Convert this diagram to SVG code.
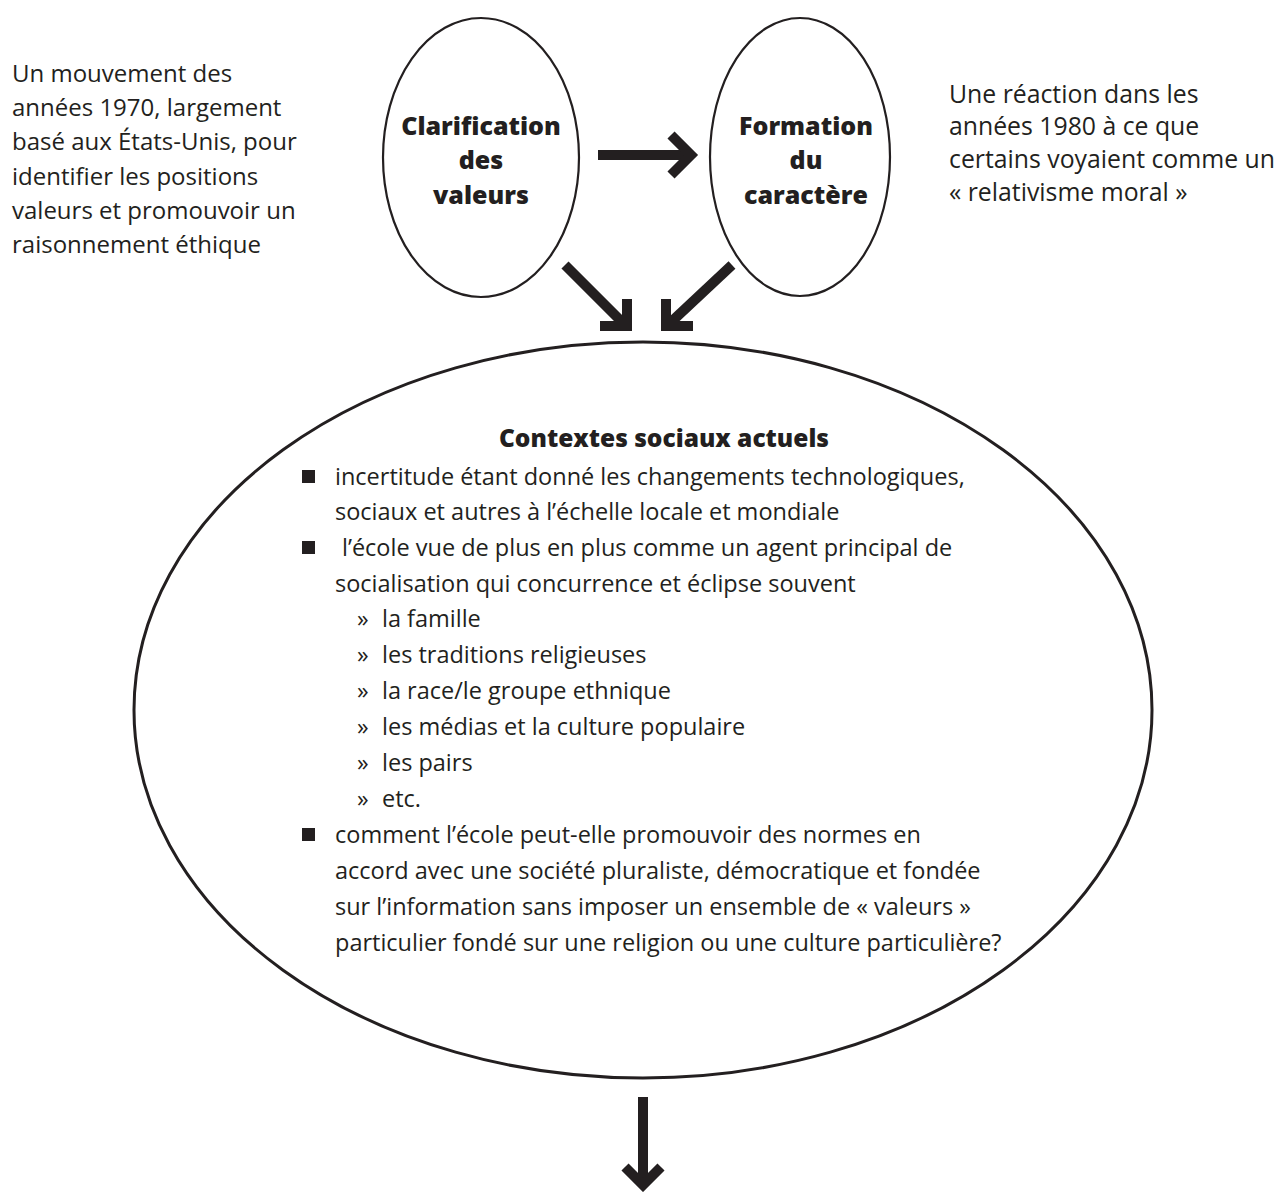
<svg xmlns="http://www.w3.org/2000/svg" width="1288" height="1192" viewBox="0 0 1288 1192">
  <style>
    .bg { fill: #ffffff; }
    .oval { fill: none; stroke: #231f20; stroke-width: 2.2; }
    .big-oval { fill: none; stroke: #231f20; stroke-width: 3; }
    .shaft { fill: none; stroke: #231f20; stroke-width: 10; stroke-linecap: butt; }
    .head { fill: none; stroke: #231f20; stroke-width: 10; stroke-linecap: butt; stroke-linejoin: miter; stroke-miterlimit: 10; }
    .note { font-family: "Open Sans", "Noto Sans", "Liberation Sans", sans-serif; font-size: 24px; fill: #231f20; }
    .note-r { font-size: 24.8px; }
    .label { font-family: "Open Sans", "Noto Sans", "Liberation Sans", sans-serif; font-size: 25px; font-weight: 800; fill: #231f20; text-anchor: middle; }
    .title { font-family: "Open Sans", "Noto Sans", "Liberation Sans", sans-serif; font-size: 24.5px; font-weight: 800; fill: #231f20; text-anchor: middle; }
    .body { font-family: "Open Sans", "Noto Sans", "Liberation Sans", sans-serif; font-size: 23.5px; fill: #231f20; }
    .sq { fill: #231f20; }
  </style>
  <rect class="bg" x="0" y="0" width="1288" height="1192"/>

  <!-- side notes -->
  <g id="note-left">
    <text class="note" x="12" y="82">Un mouvement des</text>
    <text class="note" x="12" y="116">années 1970, largement</text>
    <text class="note" x="12" y="150">basé aux États-Unis, pour</text>
    <text class="note" x="12" y="185">identifier les positions</text>
    <text class="note" x="12" y="219">valeurs et promouvoir un</text>
    <text class="note" x="12" y="253">raisonnement éthique</text>
  </g>
  <g id="note-right">
    <text class="note note-r" x="949" y="103">Une réaction dans les</text>
    <text class="note note-r" x="949" y="135">années 1980 à ce que</text>
    <text class="note note-r" x="949" y="168">certains voyaient comme un</text>
    <text class="note note-r" x="949" y="201">« relativisme moral »</text>
  </g>

  <!-- upper nodes -->
  <g id="node-clarification">
    <ellipse class="oval" cx="481" cy="157.5" rx="98" ry="139.5"/>
    <text class="label" x="481" y="135">Clarification</text>
    <text class="label" x="481" y="169">des</text>
    <text class="label" x="481" y="204">valeurs</text>
  </g>
  <g id="node-formation">
    <ellipse class="oval" cx="800" cy="157" rx="90" ry="139"/>
    <text class="label" x="806" y="135">Formation</text>
    <text class="label" x="806" y="169">du</text>
    <text class="label" x="806" y="204">caractère</text>
  </g>

  <!-- central node -->
  <g id="node-contextes">
    <ellipse class="big-oval" cx="643" cy="710" rx="509" ry="368"/>
    <text class="title" x="664" y="447">Contextes sociaux actuels</text>

    <rect class="sq" x="302" y="470" width="13" height="13"/>
    <text class="body" x="335" y="485">incertitude étant donné les changements technologiques,</text>
    <text class="body" x="335" y="520">sociaux et autres à l’échelle locale et mondiale</text>

    <rect class="sq" x="302" y="541" width="13" height="13"/>
    <text class="body" x="342" y="556">l’école vue de plus en plus comme un agent principal de</text>
    <text class="body" x="335" y="592">socialisation qui concurrence et éclipse souvent</text>

    <text class="body" x="357" y="627">»</text>
    <text class="body" x="382" y="627">la famille</text>
    <text class="body" x="357" y="663">»</text>
    <text class="body" x="382" y="663">les traditions religieuses</text>
    <text class="body" x="357" y="699">»</text>
    <text class="body" x="382" y="699">la race/le groupe ethnique</text>
    <text class="body" x="357" y="735">»</text>
    <text class="body" x="382" y="735">les médias et la culture populaire</text>
    <text class="body" x="357" y="771">»</text>
    <text class="body" x="382" y="771">les pairs</text>
    <text class="body" x="357" y="807">»</text>
    <text class="body" x="382" y="807">etc.</text>

    <rect class="sq" x="302" y="828" width="13" height="13"/>
    <text class="body" x="335" y="843">comment l’école peut-elle promouvoir des normes en</text>
    <text class="body" x="335" y="879">accord avec une société pluraliste, démocratique et fondée</text>
    <text class="body" x="335" y="915">sur l’information sans imposer un ensemble de « valeurs »</text>
    <text class="body" x="335" y="951">particulier fondé sur une religion ou une culture particulière?</text>
  </g>

  <!-- connectors -->
  <g id="connectors">
    <line class="shaft" x1="598" y1="155" x2="688" y2="155"/>
    <polyline class="head" points="671,135 691,155 671,175"/>

    <line class="shaft" x1="565" y1="265" x2="624" y2="324"/>
    <polyline class="head" points="627,299 627,326 600,326"/>

    <line class="shaft" x1="732" y1="265" x2="669" y2="324"/>
    <polyline class="head" points="666,299 666,326 693,326"/>

    <line class="shaft" x1="643" y1="1097" x2="643" y2="1182"/>
    <polyline class="head" points="625,1167 643,1185 661,1167"/>
  </g>
</svg>
